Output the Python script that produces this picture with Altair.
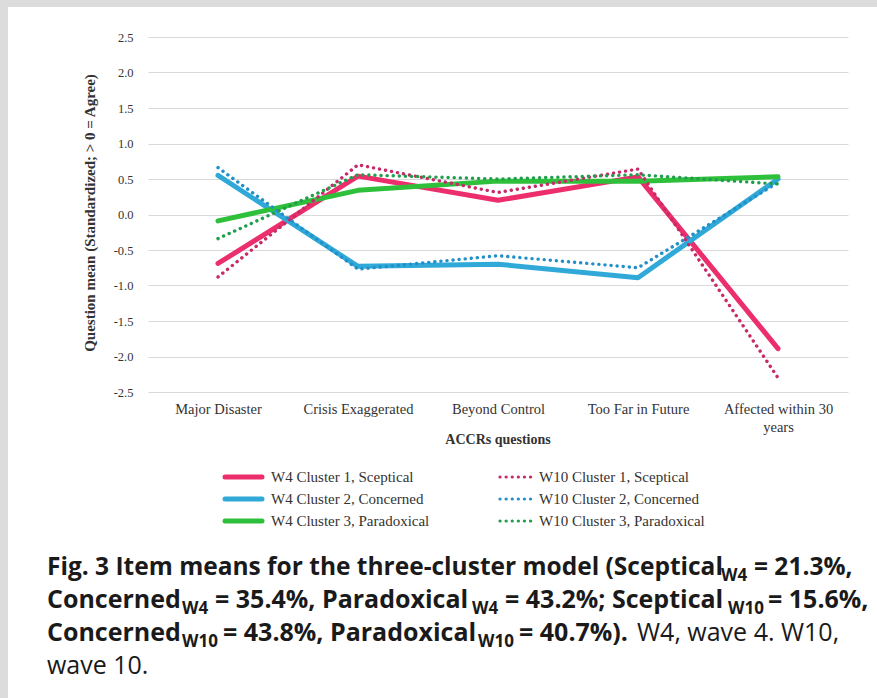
import altair as alt
import pandas as pd

# ---- data -------------------------------------------------------------
categories = [
    "Major Disaster",
    "Crisis Exaggerated",
    "Beyond Control",
    "Too Far in Future",
    "Affected within 30 years",
]

w4_sceptical = [-0.69, 0.54, 0.20, 0.53, -1.89]
w4_concerned = [0.55, -0.73, -0.70, -0.89, 0.50]
w4_paradoxical = [-0.09, 0.34, 0.47, 0.47, 0.53]
w10_sceptical = [-0.88, 0.70, 0.31, 0.64, -2.30]
w10_concerned = [0.66, -0.77, -0.58, -0.75, 0.45]
w10_paradoxical = [-0.34, 0.56, 0.50, 0.56, 0.43]

series_names = [
    "W4 Cluster 1, Sceptical",
    "W4 Cluster 2, Concerned",
    "W4 Cluster 3, Paradoxical",
    "W10 Cluster 1, Sceptical",
    "W10 Cluster 2, Concerned",
    "W10 Cluster 3, Paradoxical",
]
series_values = [
    w4_sceptical, w4_concerned, w4_paradoxical,
    w10_sceptical, w10_concerned, w10_paradoxical,
]
series_colors = ["#EC2F6C", "#30A9D9", "#2EC03B", "#C72A68", "#2190C8", "#1F9E4C"]

y_ticks = [-2.5, -2.0, -1.5, -1.0, -0.5, 0.0, 0.5, 1.0, 1.5, 2.0, 2.5]

# caption runs: (text, left x on the page, style)
caption_lines = [
    [("Fig. 3 Item means for the three-cluster model (Sceptical", 47, "bold1"),
     ("W4", 721, "sub"), ("= 21.3%,", 754, "bold1")],
    [("Concerned", 47, "bold"), ("W4", 182, "sub"),
     ("= 35.4%, Paradoxical", 215, "bold"), ("W4", 472, "sub"),
     ("= 43.2%; Sceptical", 505, "bold"), ("W10", 728, "sub"),
     ("= 15.6%,", 768, "bold")],
    [("Concerned", 47, "bold"), ("W10", 182, "sub"),
     ("= 43.8%, Paradoxical", 223, "bold"), ("W10", 478, "sub"),
     ("= 40.7%).", 519, "bold"), ("W4, wave 4. W10,", 637, "regular")],
    [("wave 10.", 47, "regular")],
]

# ---- layout -----------------------------------------------------------
OX, OY = 148, 37          # top-left corner of the plot area on the page
PW, PH = 700, 355         # plot area size
PAGE_W, PAGE_H = 877, 698
SERIF = "Liberation Serif, Times New Roman, serif"
SANS = "Open Sans, Lato, sans-serif"
TEXT = "#333333"

rows = []
for name, vals in zip(series_names, series_values):
    for q, v in zip(categories, vals):
        rows.append({"question": q, "mean": v, "series": name,
                     "wave": name.split()[0]})
df = pd.DataFrame(rows)

one = pd.DataFrame({"k": [0]})

x_enc = alt.X(
    "question:N",
    sort=categories,
    scale=alt.Scale(type="point", padding=0.5),
    axis=alt.Axis(
        title=None, labelAngle=0, ticks=False, domain=False, grid=False,
        labelPadding=10, labelFontSize=14.5, labelFont=SERIF, labelColor=TEXT,
        labelLineHeight=18,
        labelExpr="datum.label == 'Affected within 30 years' ? "
                  "['Affected within 30', 'years'] : datum.label",
    ),
)
y_enc = alt.Y(
    "mean:Q",
    scale=alt.Scale(domain=[-2.5, 2.5], nice=False, zero=False),
    axis=alt.Axis(
        title=None, values=y_ticks, ticks=False, domain=False,
        gridColor="#d9d9d9", gridWidth=1, labelPadding=15,
        labelFontSize=12.5, labelFont=SERIF, labelColor=TEXT,
        labelExpr="(datum.value < 0 ? '-' : '') + format(abs(datum.value), '.1f')",
    ),
)
color_enc = alt.Color(
    "series:N",
    scale=alt.Scale(domain=series_names, range=series_colors),
    legend=None,
)

solid = (
    alt.Chart(df)
    .transform_filter(alt.datum.wave == "W4")
    .mark_line(strokeWidth=5, strokeCap="round", strokeJoin="round")
    .encode(x=x_enc, y=y_enc, color=color_enc, detail="series:N")
)
dotted = (
    alt.Chart(df)
    .transform_filter(alt.datum.wave == "W10")
    .mark_line(strokeWidth=3.4, strokeDash=[0.1, 6], strokeCap="round",
               strokeJoin="round")
    .encode(x=x_enc, y=y_enc, color=color_enc, detail="series:N")
)

layers = []

# page frame strips
layers.append(alt.Chart(one).mark_rect(color="#dcdcdc").encode(
    x=alt.value(-OX), x2=alt.value(8 - OX),
    y=alt.value(-OY), y2=alt.value(PAGE_H - OY)))
layers.append(alt.Chart(one).mark_rect(color="#dcdcdc").encode(
    x=alt.value(-OX), x2=alt.value(PAGE_W - OX),
    y=alt.value(-OY), y2=alt.value(7 - OY)))

layers += [solid, dotted]

# axis titles
layers.append(alt.Chart(one).mark_text(
    text="ACCRs questions", font=SERIF, fontSize=14, fontWeight="bold",
    color=TEXT, align="center", baseline="middle").encode(
    x=alt.value(PW / 2), y=alt.value(440 - OY)))
layers.append(alt.Chart(one).mark_text(
    text="Question mean (Standardized; > 0 = Agree)", font=SERIF,
    fontSize=15, fontWeight="bold", color=TEXT, angle=270,
    align="center", baseline="middle").encode(
    x=alt.value(90 - OX), y=alt.value(213 - OY)))

# legend: solid W4 entries on the left, dotted W10 entries on the right
legend_cols = [(225, 262, 271), (500, 536, 539)]
legend_rows = [477, 499, 521]
for i, (name, col) in enumerate(zip(series_names, series_colors)):
    cx0, cx1, tx = legend_cols[i // 3]
    ry = legend_rows[i % 3] - OY
    if i < 3:
        sym = alt.Chart(one).mark_rule(color=col, strokeWidth=5, strokeCap="round")
    else:
        sym = alt.Chart(one).mark_rule(color=col, strokeWidth=3.2,
                                       strokeDash=[0.1, 6], strokeCap="round")
    layers.append(sym.encode(x=alt.value(cx0 - OX), x2=alt.value(cx1 - OX),
                             y=alt.value(ry)))
    layers.append(alt.Chart(one).mark_text(
        text=name, font=SERIF, fontSize=15, color=TEXT,
        align="left", baseline="middle").encode(
        x=alt.value(tx - OX), y=alt.value(ry)))

# caption
styles = {
    "bold1": dict(fontSize=24.5, fontWeight="bold"),
    "bold": dict(fontSize=25, fontWeight="bold"),
    "regular": dict(fontSize=25, fontWeight="normal"),
    "sub": dict(fontSize=17, fontWeight="bold", dy=6),
}
baselines = [575, 608, 641, 674]
for line, base in zip(caption_lines, baselines):
    for txt, x0, kind in line:
        layers.append(alt.Chart(one).mark_text(
            text=txt, font=SANS, color="#1a1a1a", align="left",
            baseline="alphabetic", **styles[kind]).encode(
            x=alt.value(x0 - OX), y=alt.value(base - OY)))

chart = (
    alt.layer(*layers)
    .properties(
        width=PW, height=PH,
        padding={"left": OX, "top": OY, "right": PAGE_W - OX - PW,
                 "bottom": PAGE_H - OY - PH},
        autosize=alt.AutoSizeParams(type="none"),
        background="white",
    )
    .configure_view(stroke=None)
)

chart.save("out.html", embed_options={"renderer": "svg", "actions": False})
